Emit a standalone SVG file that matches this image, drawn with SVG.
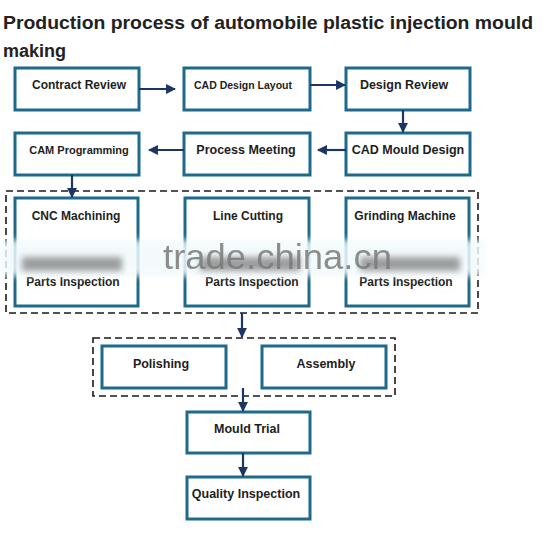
<svg xmlns="http://www.w3.org/2000/svg" width="553" height="542" viewBox="0 0 553 542">
<style>
.box{fill:#fff;stroke:#1d6a8d;stroke-width:3}
.t{font-family:"Liberation Sans",Arial,sans-serif;font-weight:bold;fill:#1e1e1e;text-anchor:middle}
.dash{fill:none;stroke:#1a1a1a;stroke-width:1.6;stroke-dasharray:7,4}
.ar{stroke:#1c3563;stroke-width:2.2;fill:none;marker-end:url(#ah)}
.title{font-family:"Liberation Sans",Arial,sans-serif;font-weight:bold;font-size:18px;fill:#222}
</style>
<defs>
<marker id="ah" viewBox="0 0 10 10" refX="9" refY="5" markerWidth="4.5" markerHeight="4.5" orient="auto" markerUnits="strokeWidth">
<path d="M0,0 L10,5 L0,10 z" fill="#1c3563"/>
</marker>
<filter id="blur" x="-5%" y="-50%" width="110%" height="200%"><feGaussianBlur stdDeviation="3"/></filter>
</defs>
<rect width="553" height="542" fill="#fff"/>
<text class="title" x="3" y="29" textLength="530" lengthAdjust="spacingAndGlyphs">Production process of automobile plastic injection mould</text>
<text class="title" x="3" y="57">making</text>

<g id="dashed-groups">
<rect class="dash" x="6" y="191" width="472" height="122"/>
<rect class="dash" x="93" y="338" width="302" height="58"/>
</g>

<g id="n-contract"><rect class="box" x="15" y="68" width="124" height="42"/><text class="t" x="79" y="89" font-size="12">Contract Review</text></g>
<g id="n-cadlayout"><rect class="box" x="184" y="68" width="126" height="42"/><text class="t" x="243" y="89" font-size="10.5">CAD Design Layout</text></g>
<g id="n-designreview"><rect class="box" x="346" y="68" width="124" height="42"/><text class="t" x="404" y="89" font-size="12.5">Design Review</text></g>
<g id="n-cam"><rect class="box" x="15" y="133" width="124" height="42"/><text class="t" x="79" y="154" font-size="11">CAM Programming</text></g>
<g id="n-process"><rect class="box" x="184" y="133" width="126" height="42"/><text class="t" x="246" y="154" font-size="12.5">Process Meeting</text></g>
<g id="n-cadmould"><rect class="box" x="346" y="133" width="124" height="42"/><text class="t" x="408" y="154" font-size="12.5">CAD Mould Design</text></g>

<g id="n-cnc"><rect class="box" x="15" y="198" width="123" height="108"/><text class="t" x="76" y="220" font-size="12">CNC Machining</text><text class="t" x="73" y="286" font-size="12">Parts Inspection</text></g>
<g id="n-line"><rect class="box" x="185" y="198" width="124" height="108"/><text class="t" x="248" y="220" font-size="12">Line Cutting</text><text class="t" x="252" y="286" font-size="12">Parts Inspection</text></g>
<g id="n-grind"><rect class="box" x="346" y="198" width="123" height="108"/><text class="t" x="405" y="220" font-size="12">Grinding Machine</text><text class="t" x="406" y="286" font-size="12">Parts Inspection</text></g>

<g id="n-polishing"><rect class="box" x="102" y="346" width="124" height="42"/><text class="t" x="161" y="368" font-size="12.5">Polishing</text></g>
<g id="n-assembly"><rect class="box" x="262" y="346" width="124" height="42"/><text class="t" x="326" y="368" font-size="12.5">Assembly</text></g>
<g id="n-trial"><rect class="box" x="187" y="412" width="123" height="41"/><text class="t" x="247" y="433" font-size="12.5">Mould Trial</text></g>
<g id="n-quality"><rect class="box" x="187" y="477" width="123" height="42"/><text class="t" x="246" y="498" font-size="12.5">Quality Inspection</text></g>

<g id="connectors">
<line class="ar" x1="139" y1="89" x2="175" y2="89"/>
<line class="ar" x1="310" y1="85" x2="345" y2="85"/>
<line class="ar" x1="403" y1="110" x2="403" y2="132"/>
<line class="ar" x1="346" y1="150" x2="318" y2="150"/>
<line class="ar" x1="184" y1="150" x2="149" y2="150"/>
<line class="ar" x1="72" y1="175" x2="72" y2="197"/>
<line class="ar" x1="242" y1="313" x2="242" y2="337"/>
<line class="ar" x1="243" y1="388" x2="243" y2="411"/>
<line class="ar" x1="243" y1="453" x2="243" y2="476"/>
</g>

<g id="watermark">
<rect x="0" y="240" width="485" height="36" fill="#f2fafc" opacity="0.85" filter="url(#blur)"/>
<rect x="22" y="257" width="100" height="14" fill="#7e7e7e" opacity="0.75" filter="url(#blur)"/>
<rect x="200" y="257" width="100" height="14" fill="#7e7e7e" opacity="0.75" filter="url(#blur)"/>
<rect x="360" y="257" width="100" height="14" fill="#7e7e7e" opacity="0.75" filter="url(#blur)"/>
<text x="163" y="269" font-family="'Liberation Sans',Arial,sans-serif" font-size="35" fill="#7a7a7a" opacity="0.85" textLength="229" lengthAdjust="spacingAndGlyphs">trade.china.cn</text>
</g>
</svg>
